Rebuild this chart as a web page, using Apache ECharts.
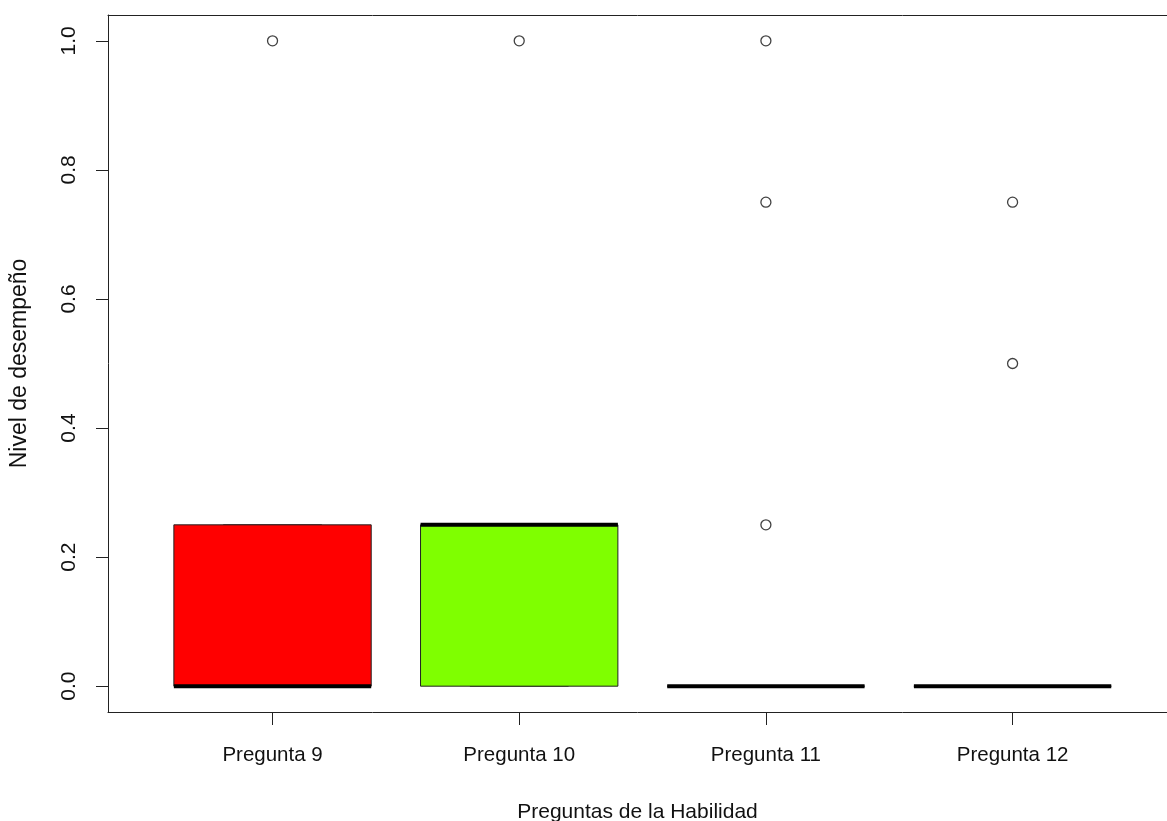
<!DOCTYPE html>
<html>
<head>
<meta charset="utf-8">
<title>Nivel de desempeño por pregunta</title>
<script src="https://cdn.jsdelivr.net/npm/echarts@6/dist/echarts.min.js"></script>
<style>
  html, body { margin: 0; padding: 0; background: #ffffff; }
  #chart { width: 1167px; height: 821px; }
</style>
</head>
<body>
<div id="chart"></div>
<script>
// Box statistics per question (R-style boxplot: whiskers, hinges, median)
const categories   = ['Pregunta 9', 'Pregunta 10', 'Pregunta 11', 'Pregunta 12'];
const whiskerLow   = [0, 0, 0, 0];
const hingeLow     = [0, 0, 0, 0];
const medians      = [0, 0.25, 0, 0];
const hingeHigh    = [0.25, 0.25, 0, 0];
const whiskerHigh  = [0.25, 0.25, 0, 0];
const outliers     = [[1.0], [1.0], [0.25, 0.75, 1.0], [0.5, 0.75]];
const boxColors    = ['#FF0000', '#7FFF00', '#00FFFF', '#8000FF'];
const yTicks       = [0, 0.2, 0.4, 0.6, 0.8, 1.0];

const FONT = 'Liberation Sans, Arial, sans-serif';
const INK = '#111111';
const FRAME = '#222222';

const boxData = categories.map((c, i) => [i + 1, whiskerLow[i], hingeLow[i], medians[i], hingeHigh[i], whiskerHigh[i]]);
const outlierData = [];
outliers.forEach((vals, i) => vals.forEach(v => outlierData.push([i + 1, v])));

function renderBox(params, api) {
  const x = api.value(0);
  const lo = api.value(1), q1 = api.value(2), med = api.value(3), q3 = api.value(4), hi = api.value(5);
  const half = api.size([0.8, 0])[0] / 2;
  const staple = half / 2;
  const pQ1 = api.coord([x, q1]);
  const pQ3 = api.coord([x, q3]);
  const pMed = api.coord([x, med]);
  const pLo = api.coord([x, lo]);
  const pHi = api.coord([x, hi]);
  const cx = pQ1[0];
  const lineStyle = { stroke: FRAME, lineWidth: 1 };
  return {
    type: 'group',
    children: [
      // whiskers and staples
      { type: 'line', shape: { x1: cx, y1: pQ3[1], x2: cx, y2: pHi[1] }, style: Object.assign({ lineDash: [6, 6] }, lineStyle) },
      { type: 'line', shape: { x1: cx, y1: pQ1[1], x2: cx, y2: pLo[1] }, style: Object.assign({ lineDash: [6, 6] }, lineStyle) },
      { type: 'line', shape: { x1: cx - staple, y1: pHi[1], x2: cx + staple, y2: pHi[1] }, style: lineStyle },
      { type: 'line', shape: { x1: cx - staple, y1: pLo[1], x2: cx + staple, y2: pLo[1] }, style: lineStyle },
      // box
      { type: 'rect', shape: { x: cx - half, y: pQ3[1], width: half * 2, height: pQ1[1] - pQ3[1] },
        style: { fill: boxColors[params.dataIndex], stroke: FRAME, lineWidth: 1 } },
      // median
      { type: 'line', shape: { x1: cx - half, y1: pMed[1], x2: cx + half, y2: pMed[1] },
        style: { stroke: '#000000', lineWidth: 4 } }
    ]
  };
}

// The plotting frame runs past the right edge of the canvas, so the
// x range stops where the canvas ends.
const X_MIN = 0.333, X_MAX = 4.626;

const chart = echarts.init(document.getElementById('chart'), null, { renderer: 'canvas' });
chart.setOption({
  animation: false,
  backgroundColor: '#ffffff',
  grid: { left: 108, top: 15, right: 0, bottom: 109, show: false, containLabel: false, outerBoundsMode: 'none' },
  xAxis: [
    {
      type: 'value', min: X_MIN, max: X_MAX, position: 'bottom',
      name: 'Preguntas de la Habilidad', nameLocation: 'middle', nameGap: 90,
      nameTextStyle: { fontFamily: FONT, fontSize: 21, color: INK },
      axisLine: { show: true, onZero: false, lineStyle: { color: FRAME, width: 1 } },
      axisTick: { show: true, length: 13, customValues: [1, 2, 3, 4], lineStyle: { color: FRAME, width: 1 } },
      axisLabel: {
        customValues: [1, 2, 3, 4], margin: 33,
        fontFamily: FONT, fontSize: 20.5, color: INK,
        formatter: v => categories[Math.round(v) - 1]
      },
      splitLine: { show: false }
    },
    {
      // top edge of the frame
      type: 'value', min: X_MIN, max: X_MAX, position: 'top',
      axisLine: { show: true, onZero: false, lineStyle: { color: FRAME, width: 1 } },
      axisTick: { show: false }, axisLabel: { show: false }, splitLine: { show: false }
    }
  ],
  yAxis: {
    type: 'value', min: -0.04, max: 1.04,
    name: 'Nivel de desempeño', nameLocation: 'middle', nameGap: 77, nameRotate: 90,
    nameTextStyle: { fontFamily: FONT, fontSize: 23, color: INK },
    axisLine: { show: true, onZero: false, lineStyle: { color: FRAME, width: 1 } },
    axisTick: { show: true, length: 12, customValues: yTicks, lineStyle: { color: FRAME, width: 1 } },
    axisLabel: {
      customValues: yTicks, rotate: 90, margin: 28,
      fontFamily: FONT, fontSize: 21, color: INK,
      formatter: v => v.toFixed(1)
    },
    splitLine: { show: false }
  },
  series: [
    {
      type: 'custom',
      renderItem: renderBox,
      encode: { x: 0, y: [1, 2, 3, 4, 5] },
      data: boxData,
      clip: false
    },
    {
      type: 'scatter',
      data: outlierData,
      symbol: 'circle',
      symbolSize: 10,
      itemStyle: { color: 'rgba(0,0,0,0)', borderColor: '#111111', borderWidth: 1.3 }
    }
  ]
});
</script>
</body>
</html>
